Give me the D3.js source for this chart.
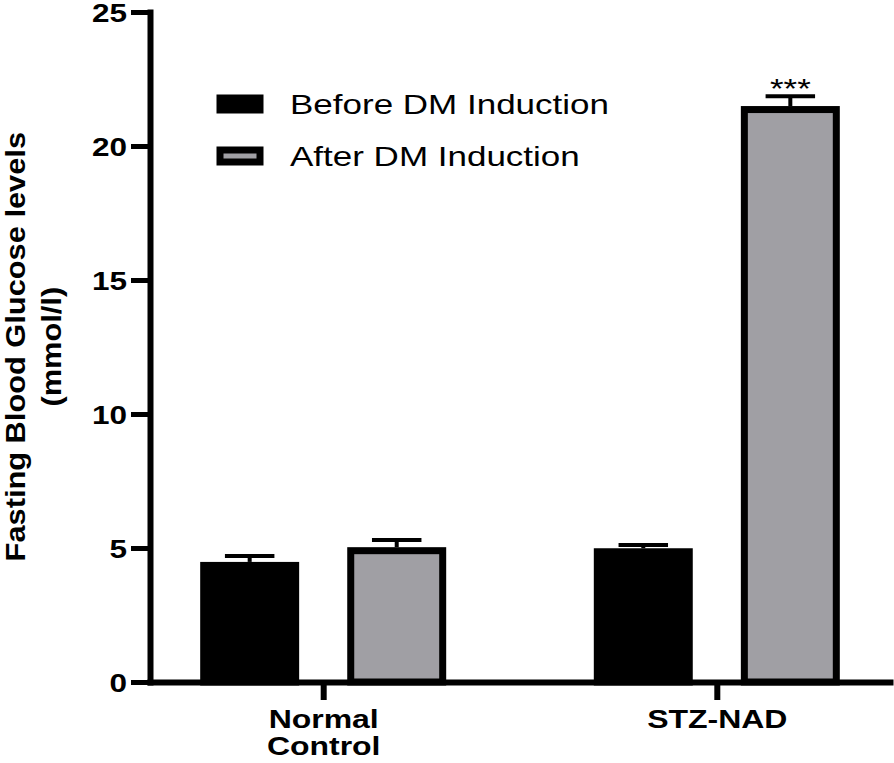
<!DOCTYPE html>
<html>
<head>
<meta charset="utf-8">
<script src="https://cdn.jsdelivr.net/npm/d3@7"></script>
<style>
  html, body { margin: 0; padding: 0; background: #fff; }
  svg { display: block; }
  text { font-family: "Liberation Sans", Arial, Helvetica, sans-serif; fill: #000; }
</style>
</head>
<body>
<svg id="chart" width="894" height="763"></svg>
<script>
// ---- data ----
const groups = ["Normal Control", "STZ-NAD"];
const groupLines = [["Normal", "Control"], ["STZ-NAD"]];
const series = ["Before DM Induction", "After DM Induction"];
const beforeValues = [4.35, 4.86];
const afterValues = [4.90, 21.36];
const beforeErrors = [0.35, 0.25];
const afterErrors = [0.40, 0.50];
const afterSignificance = ["", "***"];
const yTicks = [0, 5, 10, 15, 20, 25];
const yTitleLines = ["Fasting Blood Glucose levels", "(mmol/l)"];

const seriesColors = ["#000000", "#a09fa4"];

// ---- layout ----
const svg = d3.select("#chart");
const x0 = d3.scalePoint().domain(groups).range([150, 890]).padding(0.44);
const x1 = d3.scaleBand().domain(series).range([-123, 123]).paddingInner(0.327);
const y = d3.scaleLinear().domain([0, 25]).range([682, 12]);

const stroke = 7;
const axisW = 6;

const rows = [];
groups.forEach((g, i) => {
  rows.push({g, s: series[0], v: beforeValues[i], e: beforeErrors[i], c: seriesColors[0], sig: ""});
  rows.push({g, s: series[1], v: afterValues[i], e: afterErrors[i], c: seriesColors[1], sig: afterSignificance[i]});
});

// bars
const bw = x1.bandwidth();
svg.append("g").selectAll("rect").data(rows).join("rect")
  .attr("x", d => x0(d.g) + x1(d.s) + stroke / 2)
  .attr("width", bw - stroke)
  .attr("y", d => y(d.v))
  .attr("height", d => y(0) - y(d.v))
  .attr("fill", d => d.c)
  .attr("stroke", "#000")
  .attr("stroke-width", stroke);

// error bars (upper only)
const capW = bw * 0.5;
const eg = svg.append("g").attr("stroke", "#000").attr("stroke-width", 4);
rows.forEach(d => {
  const cx = x0(d.g) + x1(d.s) + bw / 2;
  eg.append("line").attr("x1", cx).attr("x2", cx)
    .attr("y1", y(d.v) - stroke / 2).attr("y2", y(d.v + d.e));
  eg.append("line").attr("x1", cx - capW / 2).attr("x2", cx + capW / 2)
    .attr("y1", y(d.v + d.e)).attr("y2", y(d.v + d.e));
  if (d.sig) {
    svg.append("text")
      .attr("transform", `translate(${cx},${y(d.v + d.e) + 2}) scale(1.25,1)`)
      .attr("text-anchor", "middle")
      .style("font-size", "28px")
      .text(d.sig);
  }
});

// y axis
const yAxis = d3.axisLeft(y).tickValues(yTicks).tickSize(19).tickSizeOuter(0).tickPadding(0);
const gy = svg.append("g").attr("transform", "translate(150,0)").call(yAxis);
gy.select(".domain").attr("stroke-width", axisW).attr("stroke-linecap", "square");
gy.selectAll(".tick line").attr("stroke-width", 5);
gy.selectAll(".tick text")
  .attr("x", null).attr("dy", null)
  .attr("transform", "translate(-23,9) scale(1.26,1)")
  .attr("text-anchor", "end")
  .style("font-size", "25px").style("font-weight", "bold")
  .attr("fill", "#000");

// x axis
const xAxis = d3.axisBottom(x0).tickSize(18).tickSizeOuter(0).tickFormat("");
const gx = svg.append("g").attr("transform", `translate(0,${y(0)})`).call(xAxis);
gx.select(".domain").attr("stroke-width", axisW).attr("stroke-linecap", "square");
gx.selectAll(".tick line").attr("stroke-width", 6);
gx.selectAll(".tick text").remove();
gx.selectAll(".tick").each(function(g, i) {
  const t = d3.select(this);
  groupLines[i].forEach((line, k) => {
    t.append("text")
      .attr("transform", `translate(0,${46 + k * 27}) scale(1.23,1)`)
      .attr("text-anchor", "middle")
      .style("font-size", "26px").style("font-weight", "bold")
      .text(line);
  });
});

// y title
yTitleLines.forEach((line, k) => {
  svg.append("text")
    .attr("transform", `translate(${25 + k * 36},346.7) rotate(-90) scale(1.1,1)`)
    .attr("text-anchor", "middle")
    .style("font-size", "28px").style("font-weight", "bold")
    .text(line);
});

// legend
const legend = svg.append("g");
series.forEach((s, i) => {
  const cy = 104 + i * 52;
  legend.append("rect")
    .attr("x", 220).attr("y", cy - 6).attr("width", 40).attr("height", 12)
    .attr("fill", seriesColors[i]).attr("stroke", "#000").attr("stroke-width", stroke);
  legend.append("text")
    .attr("transform", `translate(290,${cy + 9.5}) scale(1.25,1)`)
    .style("font-size", "28px")
    .text(s);
});
</script>
</body>
</html>
